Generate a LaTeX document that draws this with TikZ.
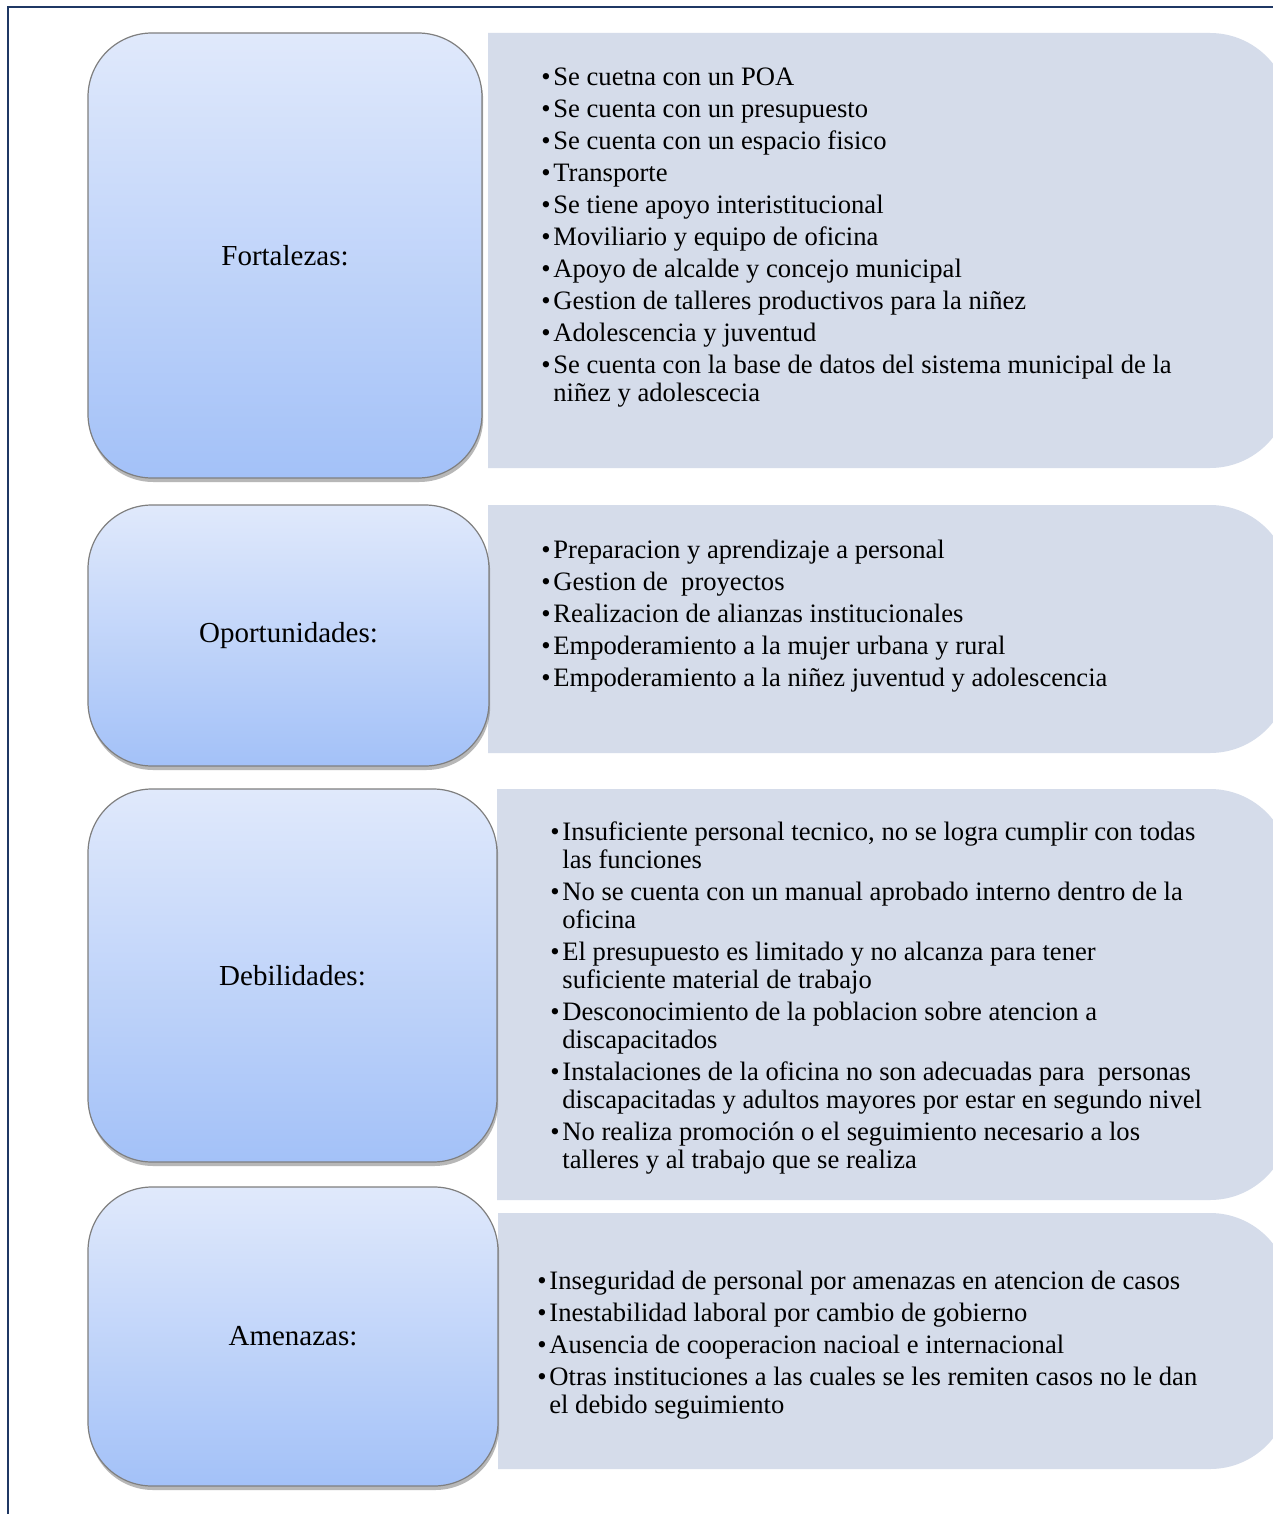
\documentclass[tikz,border=0pt]{standalone}
\usepackage{fontspec}
\setmainfont{Liberation Serif}
\usetikzlibrary{shadows}
\definecolor{navy}{HTML}{1F3864}
\definecolor{lblueA}{HTML}{E0E9FB}
\definecolor{lblueB}{HTML}{A3C1F8}
\definecolor{panel}{HTML}{D5DCEA}
\definecolor{edgegray}{HTML}{7F7F7F}
\newcommand\bl{\strut\makebox[6pt][l]{\textbullet}}
\newcommand\ct{\strut\hspace*{6pt}}
\tikzset{
  labelbox/.style={draw=edgegray, line width=0.6pt, rounded corners=32pt,
    top color=lblueA, bottom color=lblueB, inner sep=0pt,
    font=\fontsize{14.5}{17}\selectfont,
    drop shadow={shadow xshift=0.6pt, shadow yshift=-2pt, opacity=0.4, fill=black!70}},
  listtext/.style={font=\fontsize{13.3}{14}\selectfont, align=left,
    anchor=north west, inner sep=0pt},
  panelfill/.style={fill=panel},
  framestyle/.style={draw=navy, line width=1.2pt}
}
\begin{document}
\begin{tikzpicture}[x=0.5pt,y=-0.5pt]
\useasboundingbox (0,0) rectangle (1273,1514);
\clip (0,0) rectangle (1273,1514);
\fill[white] (0,0) rectangle (1273,1514);
% frame
\draw[framestyle] (8,1520) -- (8,7) -- (1280,7);
% panels
\fill[panelfill] (488,33) [rounded corners=40pt] -- (1290,33) -- (1290,468) [sharp corners] -- (488,468) -- cycle;
\fill[panelfill] (488,505) [rounded corners=40pt] -- (1290,505) -- (1290,753) [sharp corners] -- (488,753) -- cycle;
\fill[panelfill] (497,789) [rounded corners=40pt] -- (1290,789) -- (1290,1200) [sharp corners] -- (497,1200) -- cycle;
\fill[panelfill] (498,1213) [rounded corners=40pt] -- (1290,1213) -- (1290,1469) [sharp corners] -- (498,1469) -- cycle;
% label boxes
\node[labelbox, minimum width=197pt, minimum height=222.5pt] (fort) at (285,255.5) {Fortalezas:};
\node[labelbox, minimum width=200.5pt, minimum height=130.5pt] (opor) at (288.5,635.5) {Oportunidades:};
\node[labelbox, minimum width=204.5pt, minimum height=186.5pt] (debi) at (292.5,975.5) {Debilidades:};
\node[labelbox, minimum width=205pt, minimum height=149.5pt] (amen) at (293,1336.5) {Amenazas:};
% lists
\node[listtext] (lfort) at (541,65.4) {%
\bl Se cuetna con un POA\\[2pt]
\bl Se cuenta con un presupuesto\\[2pt]
\bl Se cuenta con un espacio fisico\\[2pt]
\bl Transporte\\[2pt]
\bl Se tiene apoyo interistitucional\\[2pt]
\bl Moviliario y equipo de oficina\\[2pt]
\bl Apoyo de alcalde y concejo municipal\\[2pt]
\bl Gestion de talleres productivos para la niñez\\[2pt]
\bl Adolescencia y juventud\\[2pt]
\bl Se cuenta con la base de datos del sistema municipal de la\\
\ct niñez y adolescecia};
\node[listtext] (lopor) at (541,538.4) {%
\bl Preparacion y aprendizaje a personal\\[2pt]
\bl Gestion de \ proyectos\\[2pt]
\bl Realizacion de alianzas institucionales\\[2pt]
\bl Empoderamiento a la mujer urbana y rural\\[2pt]
\bl Empoderamiento a la niñez juventud y adolescencia};
\node[listtext] (ldebi) at (550,820.4) {%
\bl Insuficiente personal tecnico, no se logra cumplir con todas\\
\ct las funciones\\[2pt]
\bl No se cuenta con un manual aprobado interno dentro de la\\
\ct oficina\\[2pt]
\bl El presupuesto es limitado y no alcanza para tener\\
\ct suficiente material de trabajo\\[2pt]
\bl Desconocimiento de la poblacion sobre atencion a\\
\ct discapacitados\\[2pt]
\bl Instalaciones de la oficina no son adecuadas para \ personas\\
\ct discapacitadas y adultos mayores por estar en segundo nivel\\[2pt]
\bl No realiza promoción o el seguimiento necesario a los\\
\ct talleres y al trabajo que se realiza};
\node[listtext] (lamen) at (537,1269.4) {%
\bl Inseguridad de personal por amenazas en atencion de casos\\[2pt]
\bl Inestabilidad laboral por cambio de gobierno\\[2pt]
\bl Ausencia de cooperacion nacioal e internacional\\[2pt]
\bl Otras instituciones a las cuales se les remiten casos no le dan\\
\ct el debido seguimiento};
\end{tikzpicture}
\end{document}
